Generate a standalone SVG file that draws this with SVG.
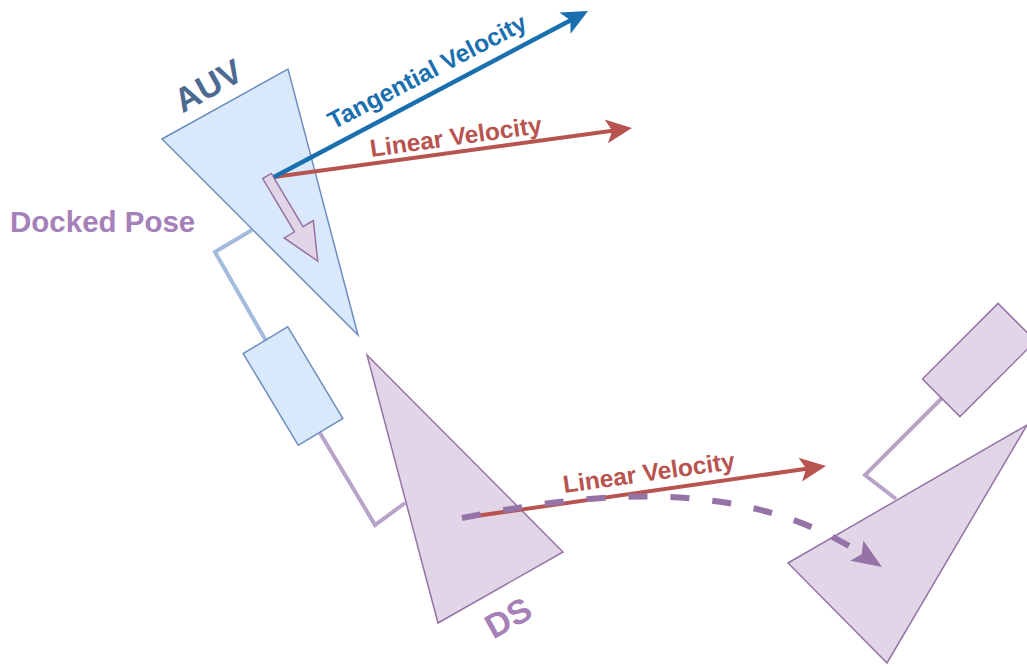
<svg xmlns="http://www.w3.org/2000/svg" width="1027" height="666" viewBox="0 0 1027 666">
<style>
.auv{fill:#dae8fc;stroke:#6c8ebf;stroke-width:1.5}
.ds{fill:#e1d5e7;stroke:#9673a6;stroke-width:1.5}
.lbl{font-family:"Liberation Sans",Arial,sans-serif;font-weight:bold}
.conB{fill:none;stroke:#a3bbdc;stroke-width:4}
.conP{fill:none;stroke:#b9a3c9;stroke-width:4}
</style>
<defs>
<marker id="hRed" markerUnits="userSpaceOnUse" viewBox="-10 -14 30 28" refX="0" refY="0" markerWidth="30" markerHeight="28" orient="auto">
<path d="M18,0 L-8,-12 L-2,0 L-8,12 Z" fill="#b85450"/>
</marker>
<marker id="hBlue" markerUnits="userSpaceOnUse" viewBox="-10 -14 30 28" refX="0" refY="0" markerWidth="30" markerHeight="28" orient="auto">
<path d="M18,0 L-8,-12 L-2,0 L-8,12 Z" fill="#1a6fae"/>
</marker>
</defs>
<rect width="1027" height="666" fill="#ffffff"/>
<g id="connectors">
<polyline class="conB" points="252,230 215,252 265.5,340"/>
<polyline class="conP" points="320,433 375,525 405,503"/>
<polyline class="conP" points="942,398 865,475 896,499"/>
</g>
<g id="auv-body"><rect class="auv" x="-26" y="-53.5" width="52" height="107" transform="translate(293,386) rotate(-31)"/></g>
<g id="auv"><polygon class="auv" points="162,139 288,69 358,335"/></g>
<g id="ds"><polygon class="ds" points="367,355 563,552 438,623"/></g>
<g id="ds-body-target"><rect class="ds" x="-26.5" y="-53.5" width="53" height="107" transform="translate(979,360) rotate(45)"/></g>
<g id="ds-target"><polygon class="ds" points="788,563 1027,425 887,663"/></g>
<g id="docked-pose-arrow"><polygon class="ds" points="0,-5 62,-5 62,-17 99,0 62,17 62,5 0,5" transform="translate(267,176) rotate(59.2)"/></g>
<g id="velocities">
<line x1="274" y1="177" x2="614.2" y2="130.4" stroke="#b85450" stroke-width="4" marker-end="url(#hRed)"/>
<line x1="274" y1="177" x2="572.1" y2="19.4" stroke="#1a6fae" stroke-width="4.5" marker-end="url(#hBlue)"/>
<line x1="462" y1="518" x2="808.2" y2="468.5" stroke="#b85450" stroke-width="4" marker-end="url(#hRed)"/>
</g>
<g id="trajectory">
<path d="M462,518 C600,490 745,478 862,554" fill="none" stroke="#9673a6" stroke-width="6" stroke-dasharray="19 23"/>
<polygon points="882,567 863.3,540.5 861.8,553.9 850.3,560.7" fill="#9673a6"/>
</g>
<g id="labels">
<text class="lbl" x="214" y="96" font-size="34" fill="#4d6a91" text-anchor="middle" transform="rotate(-29 214 96)">AUV</text>
<text class="lbl" x="514" y="628" font-size="34" fill="#a680b8" text-anchor="middle" transform="rotate(-29 514 628)">DS</text>
<text class="lbl" x="10" y="232" font-size="29.5" fill="#a680b8">Docked Pose</text>
<text class="lbl" x="431" y="79" font-size="24.5" fill="#1a6fae" text-anchor="middle" transform="rotate(-27.5 431 79)">Tangential Velocity</text>
<text class="lbl" x="457" y="145" font-size="24.5" fill="#b85450" text-anchor="middle" transform="rotate(-8 457 145)">Linear Velocity</text>
<text class="lbl" x="650" y="481" font-size="24.5" fill="#b85450" text-anchor="middle" transform="rotate(-8 650 481)">Linear Velocity</text>
</g>
</svg>
